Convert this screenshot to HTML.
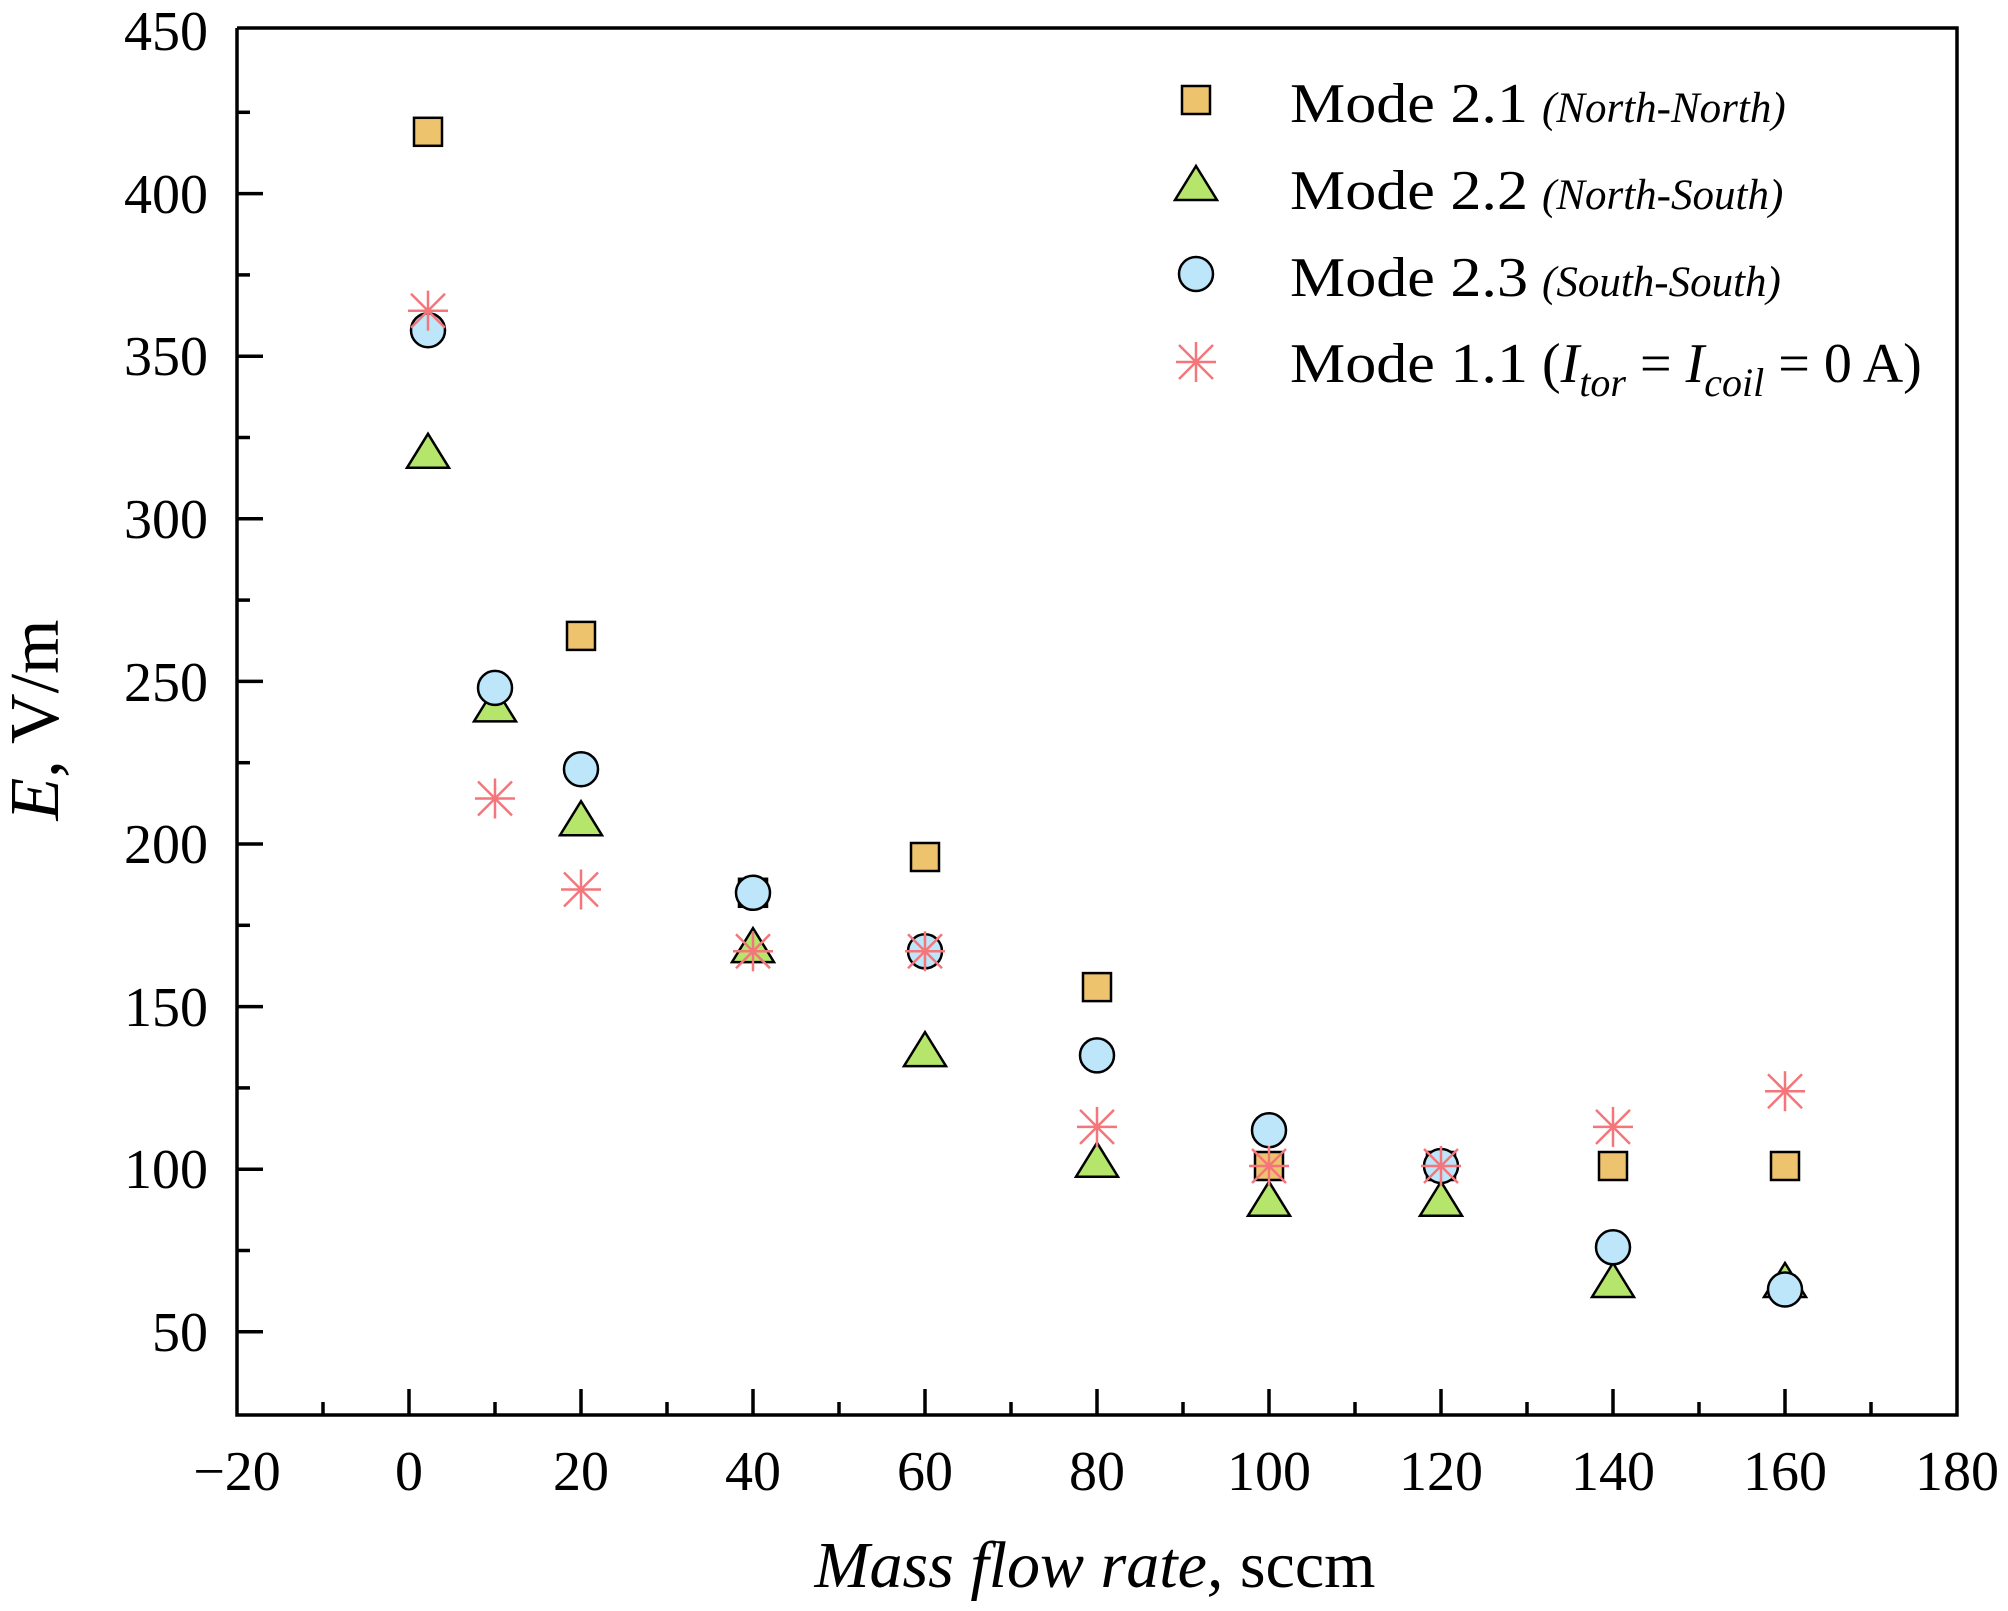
<!DOCTYPE html>
<html><head><meta charset="utf-8"><style>
html,body{margin:0;padding:0;background:#fff;}
svg{display:block;}
text{font-family:"Liberation Serif",serif;fill:#000;}
</style></head><body>
<svg width="2008" height="1611" viewBox="0 0 2008 1611" xmlns="http://www.w3.org/2000/svg">
<defs>
<g id="sq"><rect x="-14" y="-14" width="28" height="28" fill="#eec36e" stroke="#000" stroke-width="2.5"/></g>
<g id="tr"><polygon points="0,-20 21,14 -21,14" fill="#b5e56a" stroke="#000" stroke-width="2.5"/></g>
<g id="ci"><circle r="17" fill="#bde6fb" stroke="#000" stroke-width="2.5"/></g>
<g id="st" stroke="#f4757a" stroke-width="2.5"><line x1="0" y1="-20" x2="0" y2="20"/><line x1="-20" y1="0" x2="20" y2="0"/><line x1="-17" y1="-17" x2="17" y2="17"/><line x1="-17" y1="17" x2="17" y2="-17"/></g>
</defs>
<g stroke="#000" stroke-width="3.5" fill="none">
<polyline points="237,28 237,1415 1957,1415 1957,28 237,28"/>
</g>
<g stroke="#000" stroke-width="3.5">
<line x1="237" y1="1331.8" x2="263" y2="1331.8"/><line x1="237" y1="1169.2" x2="263" y2="1169.2"/><line x1="237" y1="1006.6" x2="263" y2="1006.6"/><line x1="237" y1="844" x2="263" y2="844"/><line x1="237" y1="681.4" x2="263" y2="681.4"/><line x1="237" y1="518.8" x2="263" y2="518.8"/><line x1="237" y1="356.2" x2="263" y2="356.2"/><line x1="237" y1="193.6" x2="263" y2="193.6"/>
<line x1="237" y1="1250.5" x2="250" y2="1250.5"/><line x1="237" y1="1087.9" x2="250" y2="1087.9"/><line x1="237" y1="925.3" x2="250" y2="925.3"/><line x1="237" y1="762.7" x2="250" y2="762.7"/><line x1="237" y1="600.1" x2="250" y2="600.1"/><line x1="237" y1="437.5" x2="250" y2="437.5"/><line x1="237" y1="274.9" x2="250" y2="274.9"/><line x1="237" y1="112.3" x2="250" y2="112.3"/>
<line x1="409" y1="1415" x2="409" y2="1389"/><line x1="581" y1="1415" x2="581" y2="1389"/><line x1="753" y1="1415" x2="753" y2="1389"/><line x1="925" y1="1415" x2="925" y2="1389"/><line x1="1097" y1="1415" x2="1097" y2="1389"/><line x1="1269" y1="1415" x2="1269" y2="1389"/><line x1="1441" y1="1415" x2="1441" y2="1389"/><line x1="1613" y1="1415" x2="1613" y2="1389"/><line x1="1785" y1="1415" x2="1785" y2="1389"/>
<line x1="323" y1="1415" x2="323" y2="1402"/><line x1="495" y1="1415" x2="495" y2="1402"/><line x1="667" y1="1415" x2="667" y2="1402"/><line x1="839" y1="1415" x2="839" y2="1402"/><line x1="1011" y1="1415" x2="1011" y2="1402"/><line x1="1183" y1="1415" x2="1183" y2="1402"/><line x1="1355" y1="1415" x2="1355" y2="1402"/><line x1="1527" y1="1415" x2="1527" y2="1402"/><line x1="1699" y1="1415" x2="1699" y2="1402"/><line x1="1871" y1="1415" x2="1871" y2="1402"/>
</g>
<g font-size="56" text-anchor="end">
<text x="208" y="1351">50</text><text x="208" y="1188">100</text><text x="208" y="1026">150</text><text x="208" y="863">200</text><text x="208" y="701">250</text><text x="208" y="538">300</text><text x="208" y="375">350</text><text x="208" y="213">400</text><text x="208" y="50">450</text>
</g>
<g font-size="56" text-anchor="middle">
<text x="237" y="1490">−20</text><text x="409" y="1490">0</text><text x="581" y="1490">20</text><text x="753" y="1490">40</text><text x="925" y="1490">60</text><text x="1097" y="1490">80</text><text x="1269" y="1490">100</text><text x="1441" y="1490">120</text><text x="1613" y="1490">140</text><text x="1785" y="1490">160</text><text x="1957" y="1490">180</text>
</g>
<text x="1095" y="1587" font-size="66" text-anchor="middle"><tspan font-style="italic">Mass flow rate,</tspan> sccm</text>
<text transform="translate(58,720) rotate(-90)" font-size="70" text-anchor="middle"><tspan font-style="italic">E</tspan>, V/m</text>
<use href="#sq" x="428" y="131.8"/><use href="#sq" x="581" y="635.9"/><use href="#sq" x="753" y="892.8"/><use href="#sq" x="925" y="857"/><use href="#sq" x="1097" y="987.1"/><use href="#sq" x="1269" y="1166"/><use href="#sq" x="1441" y="1166"/><use href="#sq" x="1613" y="1166"/><use href="#sq" x="1785" y="1166"/>
<use href="#tr" x="428" y="453.8"/><use href="#tr" x="495" y="707.4"/><use href="#tr" x="581" y="821.2"/><use href="#tr" x="753" y="948.1"/><use href="#tr" x="925" y="1052.1"/><use href="#tr" x="1097" y="1162.7"/><use href="#tr" x="1269" y="1201.7"/><use href="#tr" x="1441" y="1201.7"/><use href="#tr" x="1613" y="1283"/><use href="#tr" x="1785" y="1283"/>
<use href="#ci" x="428" y="330.2"/><use href="#ci" x="495" y="687.9"/><use href="#ci" x="581" y="769.2"/><use href="#ci" x="753" y="892.8"/><use href="#ci" x="925" y="951.3"/><use href="#ci" x="1097" y="1055.4"/><use href="#ci" x="1269" y="1130.2"/><use href="#ci" x="1441" y="1166"/><use href="#ci" x="1613" y="1247.3"/><use href="#ci" x="1785" y="1289.5"/>
<use href="#st" x="428" y="310.7"/><use href="#st" x="495" y="798.5"/><use href="#st" x="581" y="889.5"/><use href="#st" x="753" y="951.3"/><use href="#st" x="925" y="951.3"/><use href="#st" x="1097" y="1126.9"/><use href="#st" x="1269" y="1166"/><use href="#st" x="1441" y="1166"/><use href="#st" x="1613" y="1126.9"/><use href="#st" x="1785" y="1091.2"/>
<use href="#sq" x="1196" y="100"/><use href="#tr" x="1196" y="186"/><use href="#ci" x="1196" y="274"/><use href="#st" x="1196" y="362"/>
<g font-size="56">
<text x="1290" y="122"><tspan textLength="238" lengthAdjust="spacingAndGlyphs">Mode 2.1</tspan><tspan font-size="43" font-style="italic" dx="14">(North-North)</tspan></text>
<text x="1290" y="209"><tspan textLength="238" lengthAdjust="spacingAndGlyphs">Mode 2.2</tspan><tspan font-size="43" font-style="italic" dx="14">(North-South)</tspan></text>
<text x="1290" y="296"><tspan textLength="238" lengthAdjust="spacingAndGlyphs">Mode 2.3</tspan><tspan font-size="43" font-style="italic" dx="14">(South-South)</tspan></text>
<text x="1290" y="382"><tspan textLength="238" lengthAdjust="spacingAndGlyphs">Mode 1.1</tspan> (<tspan font-style="italic">I</tspan><tspan font-style="italic" font-size="40" dy="14">tor</tspan><tspan dy="-14"> = </tspan><tspan font-style="italic">I</tspan><tspan font-style="italic" font-size="40" dy="14">coil</tspan><tspan dy="-14"> = 0 A)</tspan></text>
</g>
</svg>
</body></html>
